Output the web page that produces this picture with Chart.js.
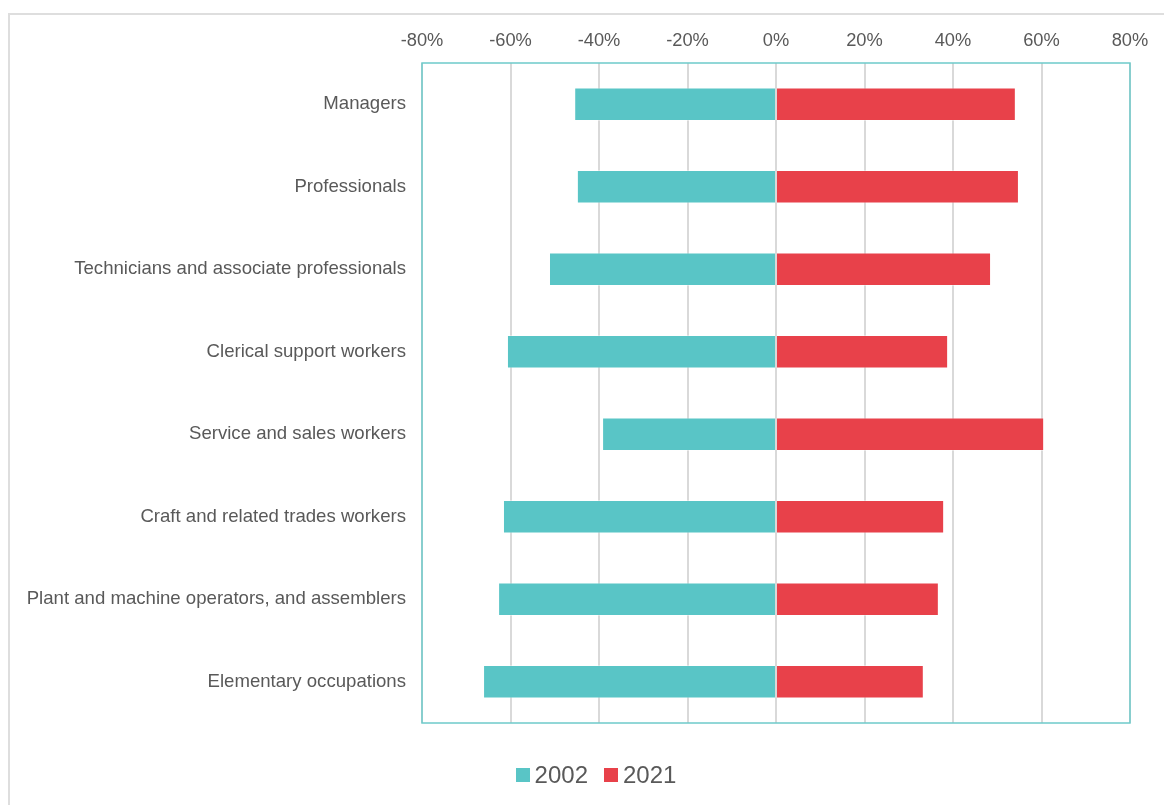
<!DOCTYPE html>
<html>
<head>
<meta charset="utf-8">
<script src="https://cdn.jsdelivr.net/npm/chart.js@4"></script>
<style>
    html, body { margin: 0; padding: 0; background: #fff; }
    body { width: 1164px; height: 805px; position: relative; overflow: hidden; font-family: "Liberation Sans", Arial, sans-serif; }
    #marco { position: absolute; left: 8px; top: 13px; width: 1200px; height: 900px; border: 2px solid #dedede; box-sizing: border-box; }
    #contenedor { position: absolute; left: 0; top: 0; width: 1164px; height: 805px; }
    #leyenda { position: absolute; top: 760px; left: 0; width: 1192px; text-align: center; font-size: 24px; color: #595959; line-height: 30px; }
    #leyenda span.item { display: inline-block; margin: 0 8px; }
    #leyenda span.caja { display: inline-block; width: 14px; height: 14px; margin-right: 5px; vertical-align: 1px; }
</style>
</head>
<body>
<div id="marco"></div>
<div id="contenedor"><canvas id="grafico" width="1164" height="805"></canvas></div>
<div id="leyenda"></div>

<script>
// Ocupaciones y porcentajes por año
const ocupaciones = [
    'Managers',
    'Professionals',
    'Technicians and associate professionals',
    'Clerical support workers',
    'Service and sales workers',
    'Craft and related trades workers',
    'Plant and machine operators, and assemblers',
    'Elementary occupations'
];
const valores2002 = [-45.6, -45.0, -51.3, -60.8, -39.3, -61.7, -62.8, -66.2];
const valores2021 = [54.2, 54.9, 48.6, 38.9, 60.6, 38.0, 36.8, 33.4];
const ticksX = [-80, -60, -40, -20, 0, 20, 40, 60, 80];

const colorGris = '#595959';
const fuenteX = { family: '"Liberation Sans", Arial, sans-serif', size: 18.3 };
const fuenteY = { family: '"Liberation Sans", Arial, sans-serif', size: 18.6 };

// Marco turquesa alrededor del área del gráfico
const bordeArea = {
    id: 'bordeArea',
    afterDatasetsDraw(chart) {
        const { ctx, chartArea: a } = chart;
        ctx.save();
        ctx.strokeStyle = '#6ecaca';
        ctx.lineWidth = 1.5;
        ctx.strokeRect(a.left, a.top, a.right - a.left, a.bottom - a.top);
        ctx.restore();
    }
};

const ctx = document.getElementById('grafico').getContext('2d');
const miGrafico = new Chart(ctx, {
    type: 'bar',
    data: {
        labels: ocupaciones,
        datasets: [
            {
                label: '2002',
                data: valores2002,
                backgroundColor: '#59c5c6',
                borderColor: 'rgba(255,255,255,0.4)',
                borderWidth: 1,
                barPercentage: 0.405,
                categoryPercentage: 1
            },
            {
                label: '2021',
                data: valores2021,
                backgroundColor: '#e8414a',
                borderColor: 'rgba(255,255,255,0.4)',
                borderWidth: 1,
                barPercentage: 0.405,
                categoryPercentage: 1
            }
        ]
    },
    options: {
        indexAxis: 'y',
        responsive: false,
        animation: false,
        layout: { padding: { top: 0, right: 34, bottom: 82, left: 0 } },
        plugins: {
            legend: { display: false },
            tooltip: { enabled: false }
        },
        scales: {
            x: {
                position: 'top',
                stacked: true,
                min: -80,
                max: 80,
                afterBuildTicks: (escala) => { escala.ticks = ticksX.map(v => ({ value: v })); },
                afterFit: (escala) => { escala.height = 63; },
                ticks: {
                    color: colorGris,
                    font: fuenteX,
                    padding: 11,
                    maxRotation: 0,
                    callback: (v) => v + '%'
                },
                grid: { color: '#d9d9d9', lineWidth: 2, drawTicks: false },
                border: { display: false }
            },
            y: {
                stacked: true,
                afterFit: (escala) => { escala.width = 422; },
                ticks: { color: colorGris, font: fuenteY, padding: 16 },
                grid: { display: false, drawTicks: false },
                border: { display: false }
            }
        }
    },
    plugins: [bordeArea]
});

// Leyenda a partir de los datasets
document.getElementById('leyenda').innerHTML = miGrafico.data.datasets.map(d =>
    '<span class="item"><span class="caja" style="background:' + d.backgroundColor + '"></span>' + d.label + '</span>'
).join('');
</script>
</body>
</html>
